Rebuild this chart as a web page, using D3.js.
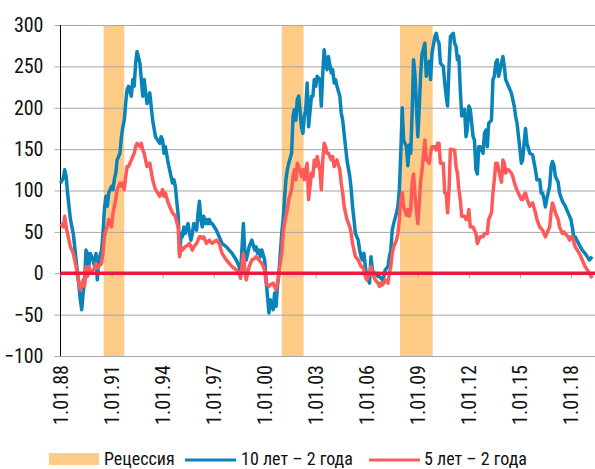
<!DOCTYPE html>
<html><head><meta charset="utf-8">
<script src="https://cdn.jsdelivr.net/npm/d3@7"></script>
<style>
html,body{margin:0;padding:0;background:#fff;}
svg text{font-family:'Liberation Sans Narrow','Roboto Condensed','DejaVu Sans Condensed',sans-serif;fill:#111;}
</style></head>
<body><svg id="c" width="595" height="469"></svg>
<script>
const dates = ["1988-01","1988-03","1988-04","1988-05","1988-06","1988-07","1988-08","1988-10","1988-11","1988-12",
"1989-01","1989-02","1989-03","1989-04","1989-05","1989-06","1989-07","1989-08","1989-09","1989-10","1989-12",
"1990-01","1990-02","1990-03","1990-04","1990-06","1990-07","1990-08","1990-09","1990-10","1990-11",
"1991-01","1991-02","1991-03","1991-04","1991-05","1991-07","1991-08","1991-09","1991-10","1991-11","1991-12",
"1992-01","1992-03","1992-04","1992-05","1992-06","1992-07","1992-09","1992-10","1992-11","1992-12",
"1993-02","1993-04","1993-06","1993-08","1993-11","1993-12",
"1994-01","1994-02","1994-03","1994-05","1994-06","1994-07","1994-08","1994-09","1994-10","1994-12",
"1995-01","1995-02","1995-03","1995-04","1995-05","1995-07","1995-08","1995-09","1995-10","1995-11",
"1996-01","1996-02","1996-03","1996-04","1996-05","1996-06","1996-07","1996-08","1996-09","1996-10","1996-11","1996-12",
"1997-03","1997-05","1997-07","1997-10","1997-12",
"1998-02","1998-05","1998-07","1998-08","1998-10","1998-11","1998-12",
"1999-02","1999-04","1999-06","1999-07","1999-08","1999-09","1999-10","1999-11",
"2000-01","2000-02","2000-03","2000-04","2000-05","2000-07","2000-08","2000-09","2000-10","2000-11",
"2001-01","2001-02","2001-03","2001-04","2001-05","2001-06","2001-08","2001-09","2001-10","2001-11","2001-12",
"2002-01","2002-03","2002-04","2002-05","2002-06","2002-07","2002-08","2002-10","2002-11","2002-12",
"2003-01","2003-02","2003-04","2003-05","2003-06","2003-07","2003-08","2003-09","2003-10","2003-12",
"2004-01","2004-02","2004-03","2004-04","2004-06","2004-07","2004-08","2004-09","2004-10","2004-11",
"2005-01","2005-02","2005-03","2005-04","2005-05","2005-07","2005-08","2005-09","2005-10","2005-11","2005-12",
"2006-01","2006-03","2006-04","2006-05","2006-06","2006-07","2006-09","2006-10","2006-11","2006-12",
"2007-01","2007-02","2007-04","2007-05","2007-06","2007-07","2007-08","2007-10","2007-11","2007-12",
"2008-01","2008-02","2008-03","2008-05","2008-06","2008-07","2008-08","2008-09","2008-10","2008-11",
"2009-01","2009-02","2009-03","2009-04","2009-06","2009-07","2009-08","2009-09","2009-10","2009-11",
"2010-01","2010-02","2010-03","2010-04","2010-05","2010-07","2010-08","2010-09","2010-10","2010-11","2010-12",
"2011-02","2011-03","2011-04","2011-05","2011-06","2011-07","2011-08","2011-10","2011-11","2011-12",
"2012-01","2012-02","2012-04","2012-05","2012-06","2012-07","2012-08","2012-09","2012-11","2012-12",
"2013-01","2013-02","2013-03","2013-05","2013-06","2013-07","2013-08","2013-09","2013-10","2013-12",
"2014-01","2014-02","2014-03","2014-04","2014-05","2014-07","2014-08","2014-09","2014-10","2014-11",
"2015-01","2015-02","2015-03","2015-04","2015-05","2015-06","2015-08","2015-10","2015-12",
"2016-01","2016-03","2016-04","2016-05","2016-06","2016-07","2016-08","2016-10","2016-11","2016-12",
"2017-01","2017-02","2017-04","2017-05","2017-06","2017-07","2017-08","2017-09","2017-11","2017-12",
"2018-01","2018-02","2018-03","2018-04","2018-07","2018-09","2018-11",
"2019-02","2019-04"];

const spread10y2y = [109,115,125,117,97,81,65,48,32,16,
0,-16,-32,-44,-24,-10,28,24,8,24,16,
8,24,-8,16,28,48,77,93,81,97,
105,101,113,121,137,145,165,177,185,206,222,
226,214,234,226,254,268,254,234,214,234,
205,218,185,165,157,165,
161,145,153,133,125,117,109,113,105,70,
22,48,44,56,48,60,48,40,48,60,
52,73,87,65,56,69,60,65,60,65,60,60,
52,44,36,32,28,
24,16,8,0,60,24,16,
32,40,28,32,24,28,20,28,
16,-8,-28,-48,-32,-44,-24,-40,-16,0,
48,65,89,113,125,133,145,190,198,185,210,
214,177,169,190,198,230,177,214,214,234,
226,238,234,202,242,270,254,246,262,242,
246,230,234,226,214,194,185,169,153,137,
117,101,81,65,48,40,28,20,16,24,8,
-4,-12,20,4,0,0,-4,-4,-6,-8,
-4,4,8,20,28,52,60,73,81,101,
145,200,161,153,130,155,145,195,258,240,
165,200,240,265,278,238,250,256,234,266,
286,290,282,278,254,250,230,214,202,250,286,
290,278,274,258,262,222,190,198,165,175,
202,198,165,161,125,120,153,153,145,169,
173,153,181,185,234,238,254,258,238,254,
262,250,234,230,226,218,210,202,190,181,
150,133,137,157,175,157,145,143,125,
113,113,97,97,90,80,90,105,129,135,
130,117,110,97,92,87,84,81,73,69,
65,55,44,44,34,28,24,
16,20];

const spread5y2y = [60,56,69,56,48,40,32,24,16,8,
-4,-12,-20,-14,-8,-16,8,-4,8,2,4,
6,12,6,8,12,24,44,52,56,65,
56,73,81,89,101,109,105,109,101,117,129,
129,137,141,145,153,157,153,157,149,145,
129,133,113,101,93,97,
101,93,97,85,81,77,73,71,69,55,
20,32,28,30,32,34,36,32,28,32,
36,40,44,44,42,44,40,36,38,40,38,36,
40,36,24,16,12,
8,4,0,-6,24,4,-8,
8,16,18,20,18,16,14,12,
4,-12,-14,-16,-14,-12,-16,-20,-12,0,
24,48,60,69,77,89,101,117,125,113,133,
129,117,125,113,125,133,89,121,117,137,
129,141,125,101,137,157,153,145,145,137,
141,129,133,137,125,109,97,81,73,65,
56,48,36,28,20,16,12,8,8,4,-4,
-8,0,8,0,-4,-8,-12,-16,-12,-14,
-12,-8,-12,0,8,24,32,40,48,65,
89,97,81,70,77,69,77,110,120,93,
60,85,110,125,161,137,137,133,145,153,
153,149,157,157,133,133,97,97,73,100,150,
149,149,129,121,101,89,69,69,65,65,
77,56,56,52,48,36,40,44,44,48,
48,48,65,73,97,113,133,133,125,110,
137,133,121,125,125,121,117,110,105,100,
93,89,89,95,97,90,81,85,73,
65,56,54,52,48,44,48,56,75,85,
80,73,65,56,52,48,50,48,44,40,
44,44,38,32,24,16,8,
0,-6];

const recessions = [["1990-07-15","1991-10-01"],["2001-01-01","2002-04-15"],["2007-12-15","2009-11-15"]];
const yTicks = [-100,-50,0,50,100,150,200,250,300];
const xTickYears = [1988,1991,1994,1997,2000,2003,2006,2009,2012,2015,2018];
const legendLabels = ["Рецессия","10 лет – 2 года","5 лет – 2 года"];

const parseM = d3.timeParse("%Y-%m");
const parseD = d3.timeParse("%Y-%m-%d");
const rows = dates.map((d,i)=>({date:parseM(d), a:spread10y2y[i], b:spread5y2y[i]}));

const svg = d3.select("#c");
const L=60.5, R=595, T=25, B=356;
const x = d3.scaleTime().domain([new Date(1988,0,1), new Date(2019,5,1)]).range([L,R]);
const y = d3.scaleLinear().domain([-100,300]).range([B,T]);

const colRec="#FFCC88", colBlue="#0A84B8", colRed="#FF5A5A", colZero="#EC1840", colGrid="#A6A6A6";

svg.append("g").selectAll("rect").data(recessions).join("rect")
  .attr("x",d=>x(parseD(d[0]))).attr("width",d=>x(parseD(d[1]))-x(parseD(d[0])))
  .attr("y",y(300)).attr("height",y(-100)-y(300)).attr("fill",colRec);

const yAxis = svg.append("g").attr("transform",`translate(${L},0)`)
  .call(d3.axisLeft(y).tickValues(yTicks).tickSize(6).tickPadding(11).tickFormat(d3.format("d")));
yAxis.select(".domain").remove();
yAxis.selectAll(".tick line").attr("stroke",colGrid).attr("x2",R-L).attr("x1",-6);
yAxis.selectAll(".tick text").attr("font-size",20).attr("fill","#111");
svg.append("line").attr("x1",L).attr("x2",L).attr("y1",T).attr("y2",B).attr("stroke","#000").attr("stroke-width",1);

const xTicks = xTickYears.map(yr=>new Date(yr,0,1));
const xAxis = svg.append("g").attr("transform",`translate(0,${y(0)})`)
  .call(d3.axisBottom(x).tickValues(xTicks).tickSize(5).tickFormat(""));
xAxis.select(".domain").remove();
xAxis.selectAll(".tick line").attr("stroke",colGrid);

const xLab = svg.append("g").attr("transform",`translate(0,${B})`)
  .call(d3.axisBottom(x).tickValues(xTicks).tickSize(0).tickFormat(d3.timeFormat("%-d.%m.%y")));
xLab.select(".domain").remove();
xLab.selectAll(".tick text").attr("font-size",20).attr("fill","#111")
  .attr("transform","translate(0,9) rotate(-90)").attr("text-anchor","end")
  .attr("x",0).attr("y",0).attr("dy","0.35em");

const lineA = d3.line().x(d=>x(d.date)).y(d=>y(d.a));
const lineB = d3.line().x(d=>x(d.date)).y(d=>y(d.b));
svg.append("path").datum(rows).attr("d",lineA).attr("fill","none").attr("stroke",colBlue).attr("stroke-width",3.5).attr("stroke-linejoin","round");
svg.append("path").datum(rows).attr("d",lineB).attr("fill","none").attr("stroke",colRed).attr("stroke-width",3.5).attr("stroke-linejoin","round");

svg.append("line").attr("x1",L).attr("x2",R).attr("y1",y(0)).attr("y2",y(0)).attr("stroke",colZero).attr("stroke-width",3.5);

const lg = svg.append("g");
lg.append("rect").attr("x",49).attr("y",453).attr("width",50).attr("height",12).attr("fill",colRec);
lg.append("text").attr("x",104).attr("y",465).attr("font-size",18).text(legendLabels[0]);
lg.append("line").attr("x1",185).attr("x2",236).attr("y1",460).attr("y2",460).attr("stroke",colBlue).attr("stroke-width",3);
lg.append("text").attr("x",241).attr("y",465).attr("font-size",18).text(legendLabels[1]);
lg.append("line").attr("x1",369).attr("x2",420).attr("y1",460).attr("y2",460).attr("stroke",colRed).attr("stroke-width",3);
lg.append("text").attr("x",424).attr("y",465).attr("font-size",18).text(legendLabels[2]);
</script></body></html>
